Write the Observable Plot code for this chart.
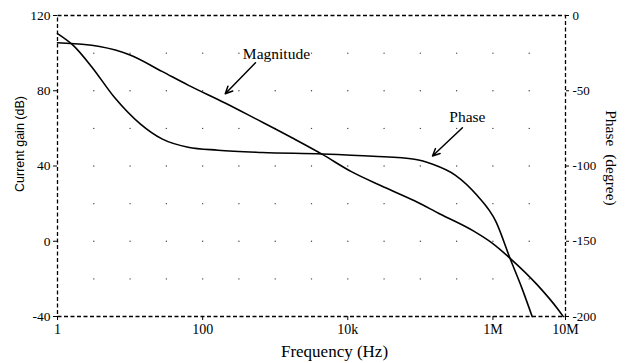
<!DOCTYPE html>
<html>
<head>
<meta charset="utf-8">
<script src="https://cdn.jsdelivr.net/npm/d3@7"></script>
<script src="https://cdn.jsdelivr.net/npm/@observablehq/plot@0.6"></script>
<style>
  html, body { margin: 0; padding: 0; background: #fff; }
  #chart { width: 626px; height: 363px; }
  #chart svg text { font-family: "Liberation Serif", "Times New Roman", serif; }
  #chart svg text.sans, #chart svg .sans text { font-family: "Liberation Sans", Arial, sans-serif; }
</style>
</head>
<body>
<div id="chart"></div>
<script>
// Magnitude curve: frequency (Hz) and current gain (dB)
const magFreq = [1, 3.8, 10, 27.5, 63, 204, 525, 1700, 4400, 11200, 28800, 83000, 186000, 537000, 977000, 1740000, 4000000, 8100000, 9300000];
const magGain = [105.5, 103.5, 99, 90.3, 83, 73.5, 65.3, 55, 46.3, 37, 29.5, 21.5, 14.5, 5.5, -1, -9.2, -22.8, -36.8, -40];

// Phase curve: frequency (Hz) and phase (degree)
const phaseFreq = [1, 1.66, 2.95, 6, 13.8, 27.5, 63, 162, 660, 4400, 22400, 83000, 148000, 302000, 603000, 1100000, 1740000, 2500000, 3470000];
const phaseDeg = [-12, -20, -34, -54, -72, -82, -87.5, -89.5, -91, -92, -93.5, -95.5, -98.8, -106, -119.5, -137, -162, -181, -200];

// Axis ticks
const freqTicks = [1, 100, 1e4, 1e6, 1e7];
const freqTickLabels = ["1", "100", "10k", "1M", "10M"];
const gainTicks = [120, 80, 40, 0, -40];
const phaseTicks = [0, -50, -100, -150, -200];

// Annotations: label, text position, arrow tail, arrow head (frequency Hz, gain dB)
const annoLabels = ["Magnitude", "Phase"];
const annoTextFreq = [1040, 445000];
const annoTextGain = [99.5, 65.8];
const annoTailFreq = [535, 380000];
const annoTailGain = [94.9, 60.3];
const annoHeadFreq = [205, 147000];
const annoHeadGain = [78.4, 45.3];

// phase (0..-200) shares the vertical extent of gain (120..-40)
const phaseToGain = p => 120 + p * 0.8;
const gainToPhase = g => Math.round((g - 120) * 1.25);

const mag = magFreq.map((f, i) => ({f, g: magGain[i]}));
const phase = phaseFreq.map((f, i) => ({f, g: phaseToGain(phaseDeg[i])}));
const annos = annoLabels.map((label, i) => ({
  label, tf: annoTextFreq[i], tg: annoTextGain[i],
  x1: annoTailFreq[i], y1: annoTailGain[i], x2: annoHeadFreq[i], y2: annoHeadGain[i]
}));
const freqLabel = new Map(freqTicks.map((f, i) => [f, freqTickLabels[i]]));

// grid dots at half-decades and every 20 dB
const gridF = d3.range(1, 14).map(k => Math.pow(10, k / 2));
const gridG = [100, 80, 60, 40, 20, 0, -20];
const grid = gridF.flatMap(f => gridG.map(g => ({f, g})));

const serif = "Liberation Serif";
const sans = "Liberation Sans";

const chart = Plot.plot({
  width: 626,
  height: 363,
  marginLeft: 57,
  marginRight: 61,
  marginTop: 15,
  marginBottom: 47,
  style: {fontSize: "13.5px", color: "#000", background: "#fff", overflow: "visible"},
  x: {type: "log", domain: [1, 1e7], axis: null},
  y: {domain: [-40, 120], axis: null},
  marks: [
    Plot.dot(grid, {x: "f", y: "g", r: 0.7, fill: "#444", stroke: null}),
    Plot.frame({stroke: "#000", strokeWidth: 1.3, strokeDasharray: "4,2.5"}),
    Plot.axisX(freqTicks, {anchor: "bottom", tickSize: 4, tickPadding: 4, tickFormat: d => freqLabel.get(d), fontSize: 14, fontFamily: serif, label: null}),
    Plot.axisY(gainTicks, {anchor: "left", tickSize: 4, tickPadding: 3, tickFormat: d => String(d), fontSize: 13.5, fontFamily: serif, label: null}),
    Plot.axisY(phaseTicks.map(phaseToGain), {anchor: "right", tickSize: 3, tickPadding: 4, tickFormat: d => String(gainToPhase(d)), fontSize: 13, fontFamily: serif, label: null}),
    Plot.line(mag, {x: "f", y: "g", curve: "monotone-x", stroke: "#000", strokeWidth: 1.6}),
    Plot.line(phase, {x: "f", y: "g", curve: "monotone-x", stroke: "#000", strokeWidth: 1.6}),
    Plot.arrow(annos, {x1: "x1", y1: "y1", x2: "x2", y2: "y2", stroke: "#000", strokeWidth: 1.5, headLength: 8, headAngle: 50}),
    Plot.text(annos, {x: "tf", y: "tg", text: "label", fontSize: 15.5, fontFamily: serif, fill: "#000"}),
    Plot.text(["Frequency (Hz)"], {frameAnchor: "bottom", textAnchor: "middle", lineAnchor: "middle", dx: 23, dy: 35, fontSize: 17, fontFamily: serif, fill: "#000"}),
    Plot.text(["Current gain (dB)"], {frameAnchor: "left", textAnchor: "middle", lineAnchor: "middle", dx: -38, dy: -22, rotate: -90, fontSize: 12.5, fontFamily: sans, fill: "#000", className: "sans"}),
    Plot.text(["Phase\u00a0 (degree)"], {frameAnchor: "right", textAnchor: "middle", lineAnchor: "middle", dx: 45, dy: -8, rotate: 90, fontSize: 15.5, fontFamily: serif, fill: "#000"})
  ]
});
document.getElementById("chart").appendChild(chart);
</script>
</body>
</html>
